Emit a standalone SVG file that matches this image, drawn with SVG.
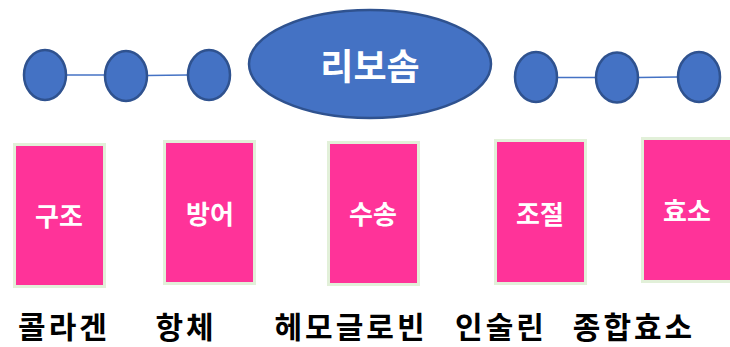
<svg xmlns="http://www.w3.org/2000/svg" width="730" height="347" viewBox="0 0 730 347">
<style>
.c{fill:#4472c4;stroke:#2f528f;stroke-width:2.5}
.ln{stroke:#4472c4;stroke-width:1.5}
.box{fill:#ff3399;stroke:#e2f0d9;stroke-width:3}
.t{font-family:"Noto Sans CJK KR","Noto Sans",sans-serif;font-weight:bold;text-anchor:middle}
.w{fill:#fff;font-size:26px}
.k{fill:#000;font-size:30px;letter-spacing:3px}
</style>
<rect width="730" height="347" fill="#fff"/>
<g id="connectors">
<line class="ln" x1="66" y1="75" x2="105" y2="75"/>
<line class="ln" x1="147" y1="75.5" x2="188" y2="75"/>
<line class="ln" x1="557" y1="77.5" x2="596" y2="77.5"/>
<line class="ln" x1="638" y1="77.5" x2="678" y2="77"/>
</g>
<g id="c1"><ellipse class="c" cx="45" cy="75" rx="21" ry="25"/></g>
<g id="c2"><ellipse class="c" cx="126" cy="76" rx="21" ry="25"/></g>
<g id="c3"><ellipse class="c" cx="209" cy="75" rx="21" ry="25"/></g>
<g id="ribosome"><ellipse class="c" cx="370" cy="64" rx="121" ry="54"/>
<text class="t" x="370" y="80" fill="#fff" font-size="36">리보솜</text></g>
<g id="c4"><ellipse class="c" cx="536" cy="77" rx="21" ry="25"/></g>
<g id="c5"><ellipse class="c" cx="617" cy="77.5" rx="21" ry="25"/></g>
<g id="c6"><ellipse class="c" cx="699" cy="77" rx="21" ry="25"/></g>
<g id="b1"><rect class="box" x="14.5" y="144.5" width="90" height="142"/><text class="t w" x="59" y="226">구조</text></g>
<g id="b2"><rect class="box" x="164.5" y="141.5" width="90" height="142"/><text class="t w" x="210" y="224">방어</text></g>
<g id="b3"><rect class="box" x="328.5" y="142.5" width="90" height="142"/><text class="t w" x="373" y="224">수송</text></g>
<g id="b4"><rect class="box" x="495.5" y="140.5" width="90" height="143"/><text class="t w" x="540" y="224">조절</text></g>
<g id="b5"><rect class="box" x="642.5" y="138.5" width="90" height="143"/><text class="t w" x="687" y="221">효소</text></g>
<g id="labels">
<text class="t k" x="64" y="338">콜라겐</text>
<text class="t k" x="186" y="338">항체</text>
<text class="t k" x="351" y="338">헤모글로빈</text>
<text class="t k" x="501" y="338">인술린</text>
<text class="t k" x="634" y="338">종합효소</text>
</g>
</svg>
